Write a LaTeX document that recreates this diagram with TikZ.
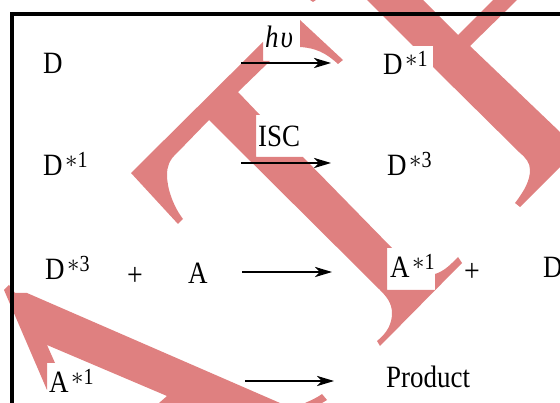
\documentclass[tikz,border=0pt]{standalone}
\usepackage{fontspec}
\setmainfont[FakeStretch=0.87]{Liberation Serif}
\usepackage{xcolor}
\usetikzlibrary{arrows.meta}
\definecolor{band}{HTML}{DF8080}
\newcommand{\excited}[2]{#1\hspace{2.5pt}\raisebox{8pt}{\fontsize{23}{23}\selectfont $\ast$#2}}

\begin{document}
\begin{tikzpicture}[
    x=1pt, y=-1pt,
    lab/.style={anchor=base west, inner sep=0pt, font=\fontsize{31}{31}\selectfont},
    sign/.style={inner sep=0pt, font=\fontsize{32}{32}\selectfont},
    arr/.style={-{Stealth[length=6mm, width=3.6mm, inset=1.7mm]}, line width=1.3pt, black},
    band/.style={fill=band, draw=none},
    frameline/.style={line width=4pt, black},
  ]
    \useasboundingbox (0,0) rectangle (560,403);
    % pink bands
    \fill[band] (131,173) -- (263,42) -- (263,61) -- (270,61) -- (238,92) -- (260,115) -- (256,115)
      -- (256,157) -- (303,157) -- (392,248) -- (387,248) -- (387,290) -- (435,290) -- (435,274)
      .. controls (445,271) and (452,263) .. (458,257) -- (462,263) -- (380,346) -- (377,341)
      .. controls (387,333) and (392,324) .. (392,313) .. controls (392,303) and (386,296) .. (380,290)
      -- (209,120) -- (177,153) .. controls (169,160) and (167,167) .. (167,175)
      .. controls (167,188) and (173,206) .. (183,219) -- (178,224) -- cycle;
    \fill[band] (300,20) -- (343,60) -- (338,64) .. controls (326,53) and (316,48) .. (300,47) -- cycle;
    \fill[band] (367,0) -- (423,0) -- (458,35) -- (493,0) -- (517,0) -- (470,46) -- (560,132) -- (560,167)
      -- (520,207) -- (515,203) .. controls (525,190) and (530,180) .. (530,170)
      .. controls (530,163) and (526,158) .. (520,153) -- (433,67) -- (433,46) -- (413,46) -- cycle;
    \fill[band] (310,0) -- (316,0) -- (313,2) -- cycle;
    \fill[band] (4,290) -- (9,285) -- (15,293) -- (27,293) -- (280,403) -- (159,403) -- (167,396)
      -- (47,345) -- (55,363) -- (47,363) -- (47,390) -- cycle;
    \fill[band] (305,403) .. controls (312,400) and (318,397) .. (322,394) -- (327,400) -- (322,403) -- cycle;
    % frame
    \draw[frameline] (12,403) -- (12,14) -- (560,14);
    % first row
    \node[lab] (dground) at (43,74) {D};
    \node[lab] (dsingletA) at (383,75) {\excited{D}{1}};
    \node[lab] (hnu) at (265,48) {\textit{h\hspace{2pt}υ}};
    \coordinate (absstart) at (241,63);
    \coordinate (absend) at (331,63);
    \draw[arr] (absstart) -- (absend);
    % second row
    \node[lab] (dsingletB) at (43,176) {\excited{D}{1}};
    \node[lab] (dtripletA) at (387,176) {\excited{D}{3}};
    \node[lab] (isc) at (258,147) {ISC};
    \coordinate (iscstart) at (241,163);
    \coordinate (iscend) at (331,163);
    \draw[arr] (iscstart) -- (iscend);
    % third row
    \node[lab] (dtripletB) at (45,280) {\excited{D}{3}};
    \node[sign] (plusA) at (135,276) {+};
    \node[lab] (acceptor) at (188,284) {A};
    \node[lab] (asingletA) at (390,278) {\excited{A}{1}};
    \node[sign] (plusB) at (472,272) {+};
    \node[lab] (dground2) at (543,278) {D};
    \coordinate (etstart) at (242,272);
    \coordinate (etend) at (332,272);
    \draw[arr] (etstart) -- (etend);
    % fourth row
    \node[lab] (asingletB) at (49,392) {\excited{A}{1}};
    \node[lab] (product) at (386,388) {Product};
    \coordinate (prodstart) at (245,381);
    \coordinate (prodend) at (334,381);
    \draw[arr] (prodstart) -- (prodend);
\end{tikzpicture}
\end{document}
